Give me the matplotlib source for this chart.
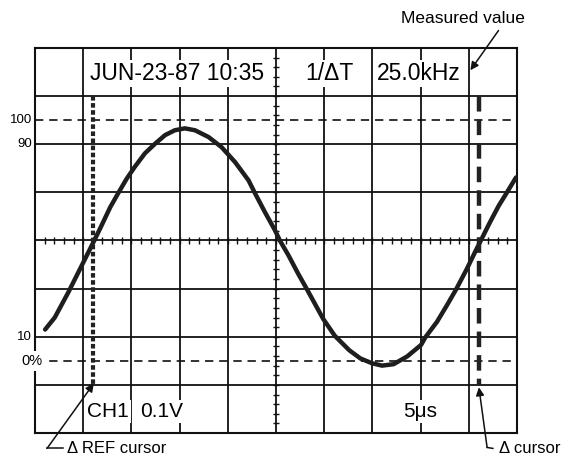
import numpy as np
import matplotlib
matplotlib.use('Agg')
import matplotlib.pyplot as plt

plt.rcParams['font.family'] = ['Liberation Sans', 'DejaVu Sans']

# trace (x in divisions, y in divisions from centre)
trace_x = [0.21, 0.41, 0.69, 0.90, 1.11, 1.23, 1.38, 1.56, 1.73, 1.90, 2.07,
           2.28, 2.49, 2.70, 2.90, 3.11, 3.32, 3.60, 3.87, 4.15, 4.43, 4.56,
           4.77, 4.98, 5.08, 5.26, 5.46, 5.64, 5.81, 5.98, 6.22, 6.52, 6.75,
           6.99, 7.20, 7.44, 7.72, 8.01, 8.10, 8.34, 8.55, 8.74, 8.96, 9.13,
           9.25, 9.44, 9.62, 9.78, 9.98]
trace_y = [-1.85, -1.60, -1.08, -0.66, -0.24, 0.00, 0.31, 0.69, 0.99, 1.28, 1.53,
           1.81, 2.01, 2.19, 2.29, 2.33, 2.29, 2.15, 1.94, 1.63, 1.25, 0.99,
           0.59, 0.21, 0.00, -0.31, -0.69, -1.01, -1.32, -1.63, -1.98, -2.28, -2.45,
           -2.55, -2.60, -2.57, -2.41, -2.17, -2.01, -1.69, -1.34, -1.01, -0.59, -0.24,
           0.00, 0.38, 0.72, 0.98, 1.31]

ref_cursor_x = 1.20
delta_cursor_x = 9.21
cursor_top = 3.0
cursor_bottom = -3.0

level_lines = [2.5, -2.5]          # 100 % and 0 %
level_labels = ['100', '90', '10', '0%']
level_label_y = [2.5, 2.0, -2.0, -2.5]

fig = plt.figure(figsize=(5.71, 4.57), dpi=100)
ax = fig.add_axes([0.0613, 0.0525, 0.8441, 0.8425])
ax.set_xlim(0, 10)
ax.set_ylim(-4, 4)
ax.set_xticks([])
ax.set_yticks([])
for s in ax.spines.values():
    s.set_linewidth(1.5)
    s.set_color('#111111')

# graticule
for gx in range(1, 10):
    ax.axvline(gx, color='#111111', lw=1.3, zorder=1)
for gy in range(-3, 4):
    ax.axhline(gy, color='#111111', lw=1.3, zorder=1)

# minor ticks on the centre lines
tk = np.arange(0.2, 10, 0.2)
ax.vlines(tk, -0.07, 0.07, color='#111111', lw=1.0, zorder=1)
tk = np.arange(-3.8, 4, 0.2)
ax.hlines(tk, 4.93, 5.07, color='#111111', lw=1.0, zorder=1)

for ly in level_lines:
    ax.axhline(ly, color='#111111', lw=1.2, ls=(0, (5, 3.5)), zorder=1)

# trace
ax.plot(trace_x, trace_y, color='#1e1e1e', lw=3.2, solid_capstyle='round',
        solid_joinstyle='round', zorder=3)

# cursors
ax.plot([ref_cursor_x, ref_cursor_x], [cursor_top, cursor_bottom], color='#222222',
        lw=3.0, ls=(0, (1.1, 0.6)), zorder=4)
ax.plot([delta_cursor_x, delta_cursor_x], [cursor_top, cursor_bottom], color='#222222',
        lw=3.2, ls=(0, (3.5, 1.8)), zorder=4)

# on-screen readouts
box = dict(facecolor='white', edgecolor='none', pad=1.5)
ax.text(1.14, 3.47, 'JUN-23-87 10:35', fontsize=16.5, va='center', ha='left', bbox=box, zorder=5)
ax.text(5.60, 3.47, '1/ΔT', fontsize=16.5, va='center', ha='left', bbox=box, zorder=5)
ax.text(7.10, 3.47, '25.0kHz', fontsize=16.5, va='center', ha='left', bbox=box, zorder=5)
ax.text(1.08, -3.56, 'CH1', fontsize=15, va='center', ha='left', bbox=box, zorder=5)
ax.text(2.18, -3.56, '0.1V', fontsize=15, va='center', ha='left', bbox=box, zorder=5)
ax.text(7.63, -3.56, '5μs', fontsize=15, va='center', ha='left', bbox=box, zorder=5)

# level labels on the left
for lab, ly in zip(level_labels, level_label_y):
    if lab == '0%':
        ax.text(-0.28, ly, lab, fontsize=10.5, va='center', ha='left',
                bbox=dict(facecolor='white', edgecolor='none', pad=2), zorder=5, clip_on=False)
    else:
        ax.text(-0.06, ly, lab, fontsize=9.5, va='center', ha='right', clip_on=False)

# callouts outside the screen
ax.text(8.88, 4.62, 'Measured value', fontsize=12.5, ha='center', va='center', clip_on=False)
ax.annotate('', xy=(9.00, 3.49), xytext=(9.65, 4.41), annotation_clip=False,
            arrowprops=dict(arrowstyle='-|>', color='#111111', lw=1.1, mutation_scale=12))

ax.plot([0.58, 0.25], [-4.32, -4.32], color='#111111', lw=1.1, clip_on=False)
ax.annotate('', xy=(1.22, -2.97), xytext=(0.25, -4.32), annotation_clip=False,
            arrowprops=dict(arrowstyle='-|>', color='#111111', lw=1.1, mutation_scale=12,
                            shrinkA=0, shrinkB=0))
ax.text(0.66, -4.32, 'Δ REF cursor', fontsize=12, ha='left', va='center', clip_on=False)

ax.plot([9.50, 9.38], [-4.32, -4.30], color='#111111', lw=1.1, clip_on=False)
ax.annotate('', xy=(9.21, -3.05), xytext=(9.38, -4.30), annotation_clip=False,
            arrowprops=dict(arrowstyle='-|>', color='#111111', lw=1.1, mutation_scale=12,
                            shrinkA=0, shrinkB=0))
ax.text(9.62, -4.32, 'Δ cursor', fontsize=12, ha='left', va='center', clip_on=False)

fig.savefig('out.png', dpi=100)
